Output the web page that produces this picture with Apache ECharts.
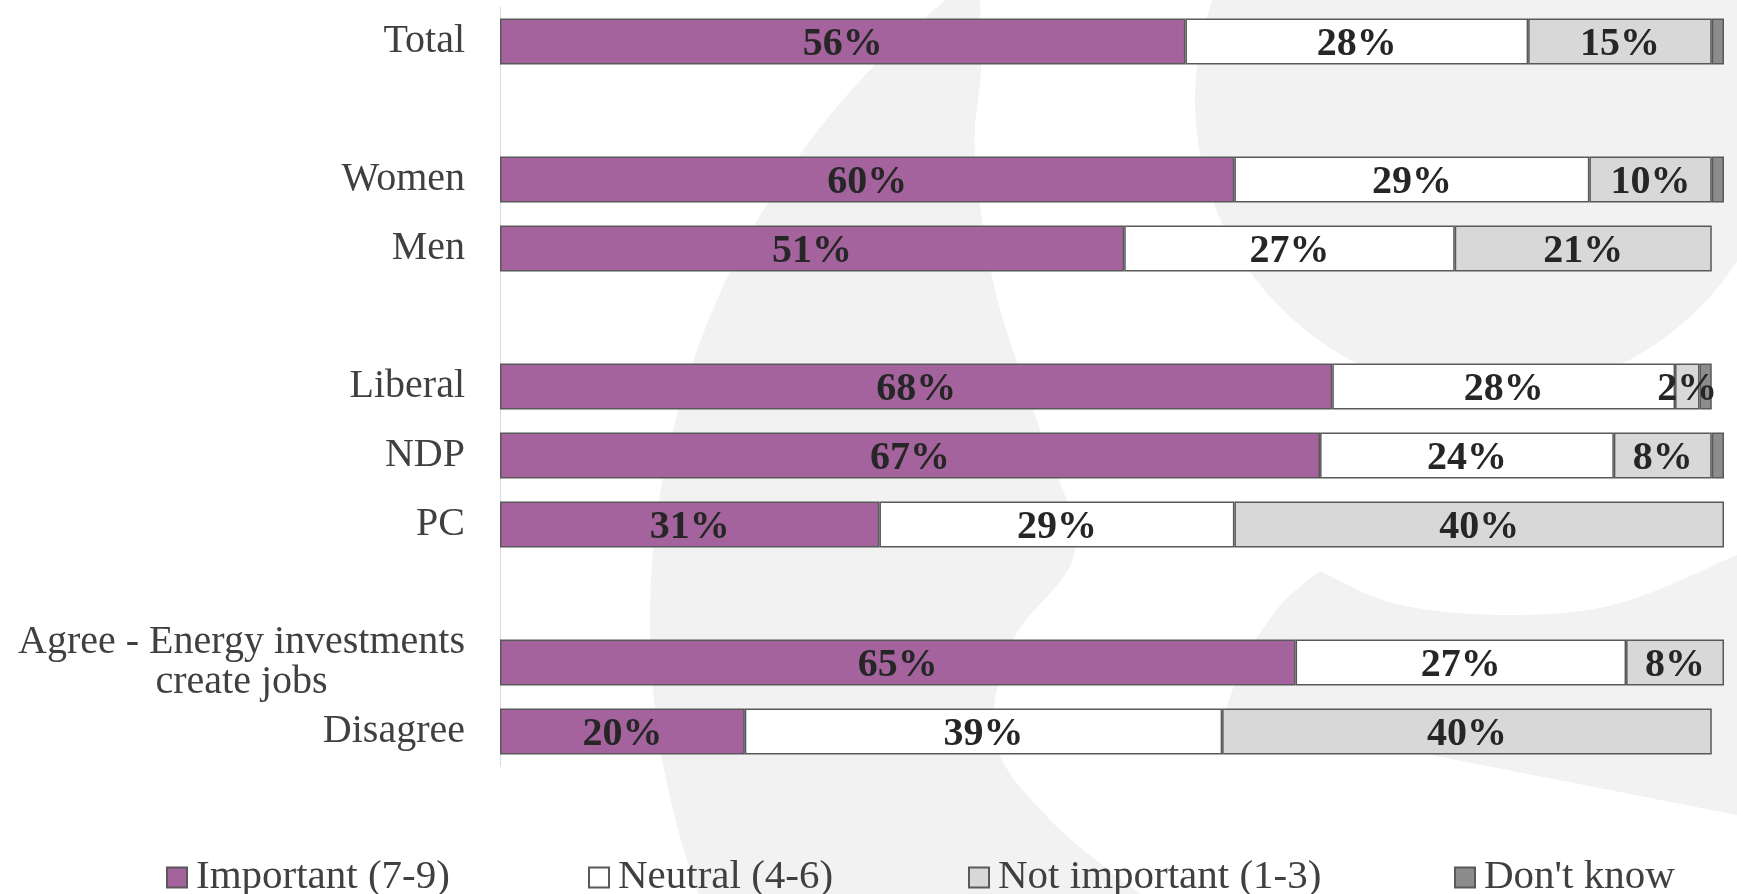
<!DOCTYPE html>
<html>
<head>
<meta charset="utf-8">
<script src="https://cdn.jsdelivr.net/npm/echarts@6/dist/echarts.min.js"></script>
<style>
html,body{margin:0;padding:0;background:#ffffff;}
#chart{width:1737px;height:894px;}
</style>
</head>
<body>
<div id="chart"></div>
<script>
// ---- data ----
const categories = ['Total', '', 'Women', 'Men', ' ', 'Liberal', 'NDP', 'PC', '  ', 'Agree - Energy investments\ncreate jobs', 'Disagree'];
const seriesNames = ['Important (7-9)', 'Neutral (4-6)', 'Not important (1-3)', "Don't know"];
const important    = [56, null, 60, 51, null, 68, 67, 31, null, 65, 20];
const neutral      = [28, null, 29, 27, null, 28, 24, 29, null, 27, 39];
const notImportant = [15, null, 10, 21, null, 2, 8, 40, null, 8, 40];
const dontKnow     = [1, null, 1, 0, null, 1, 1, 0, null, 0, 0];

// ---- styles ----
const colors = ['#A4639D', '#FFFFFF', '#D9D8D9', '#8C8C8C'];
const serif = "'Liberation Serif', 'DejaVu Serif', serif";
const FULL = [important, neutral, notImportant, dontKnow];

function toData(arr) { return arr.map(v => (v === null || v === 0) ? '-' : v); }

const series = FULL.map((arr, i) => ({
  name: seriesNames[i],
  type: 'bar',
  stack: 'total',
  barCategoryGap: '33%',
  data: toData(arr),
  itemStyle: { color: colors[i], borderColor: '#595959', borderWidth: 1.5 },
  label: {
    show: true,
    position: 'inside',
    offset: [0, 3],
    fontFamily: serif,
    fontWeight: 'bold',
    fontSize: 40,
    color: '#262626',
    formatter: p => (typeof p.value === 'number' && p.value >= 2) ? p.value + '%' : ''
  },
  emphasis: { disabled: true },
  z: 2
}));

// ---- background logo (decoration only) ----
function spline(pts, steps) {
  const out = [];
  for (let i = 0; i < pts.length - 1; i++) {
    const p0 = pts[i - 1] || pts[i], p1 = pts[i], p2 = pts[i + 1], p3 = pts[i + 2] || p2;
    for (let s = 0; s < steps; s++) {
      const t = s / steps, t2 = t * t, t3 = t2 * t;
      const f = k => 0.5 * ((2 * p1[k]) + (-p0[k] + p2[k]) * t + (2 * p0[k] - 5 * p1[k] + 4 * p2[k] - p3[k]) * t2 + (-p0[k] + 3 * p1[k] - 3 * p2[k] + p3[k]) * t3);
      out.push([f(0), f(1)]);
    }
  }
  out.push(pts[pts.length - 1]);
  return out;
}
function arcPts(cx, cy, r, y0, y1, n) {
  const out = [];
  for (let i = 0; i <= n; i++) {
    const y = y0 + (y1 - y0) * i / n;
    out.push([cx - Math.sqrt(r * r - (y - cy) * (y - cy)), y]);
  }
  return out;
}
const innerEdge = [[1140,894],[1050,820],[995,740],[1013,640],[1075,550],[1040,430],[995,290],[975,155],[981,70],[980,0]];
const crescent = arcPts(1448, 620, 798, 0, 894, 60).concat(spline(innerEdge, 10));
const lowerRight = spline([[1320,571],[1396,604],[1507,615],[1617,604],[1737,555]], 10)
  .concat([[1737,815],[1431,755]])
  .concat(spline([[1225,712],[1240,670],[1257,638],[1285,600],[1320,571]], 8));
const bgGray = '#F2F2F2';

const chart = echarts.init(document.getElementById('chart'), null, { renderer: 'canvas' });
chart.setOption({
  animation: false,
  backgroundColor: '#ffffff',
  graphic: [
    { type: 'polygon', z: -10, silent: true, shape: { points: crescent }, style: { fill: bgGray } },
    { type: 'circle', z: -10, silent: true, shape: { cx: 1490, cy: 100, r: 295 }, style: { fill: bgGray } },
    { type: 'polygon', z: -10, silent: true, shape: { points: lowerRight }, style: { fill: bgGray } }
  ],
  grid: { left: 500, right: 13, top: 7, bottom: 128, containLabel: false },
  xAxis: {
    type: 'value', min: 0, max: 100,
    axisLine: { show: false }, axisTick: { show: false },
    axisLabel: { show: false }, splitLine: { show: false }
  },
  yAxis: {
    type: 'category',
    inverse: true,
    data: categories,
    axisLine: { show: true, lineStyle: { color: '#D9D9D9', width: 1 } },
    axisTick: { show: false },
    axisLabel: {
      margin: 35,
      align: 'right',
      fontFamily: serif,
      fontSize: 40,
      color: '#404040',
      formatter: v => v.split('\n').map(l => '{c|' + l + '}').join('\n'),
      rich: { c: { align: 'center', fontFamily: serif, fontSize: 40, lineHeight: 40, color: '#404040' } }
    }
  },
  legend: seriesNames.map((n, i) => ({
    data: [n],
    left: [166, 588, 968, 1454][i],
    top: 857,
    padding: 0,
    itemWidth: 20,
    itemHeight: 20,
    icon: 'rect',
    selectedMode: false,
    textStyle: { fontFamily: serif, fontSize: 41, color: '#404040', padding: [0, 0, 0, 4] }
  })),
  series: series
});
</script>
</body>
</html>
